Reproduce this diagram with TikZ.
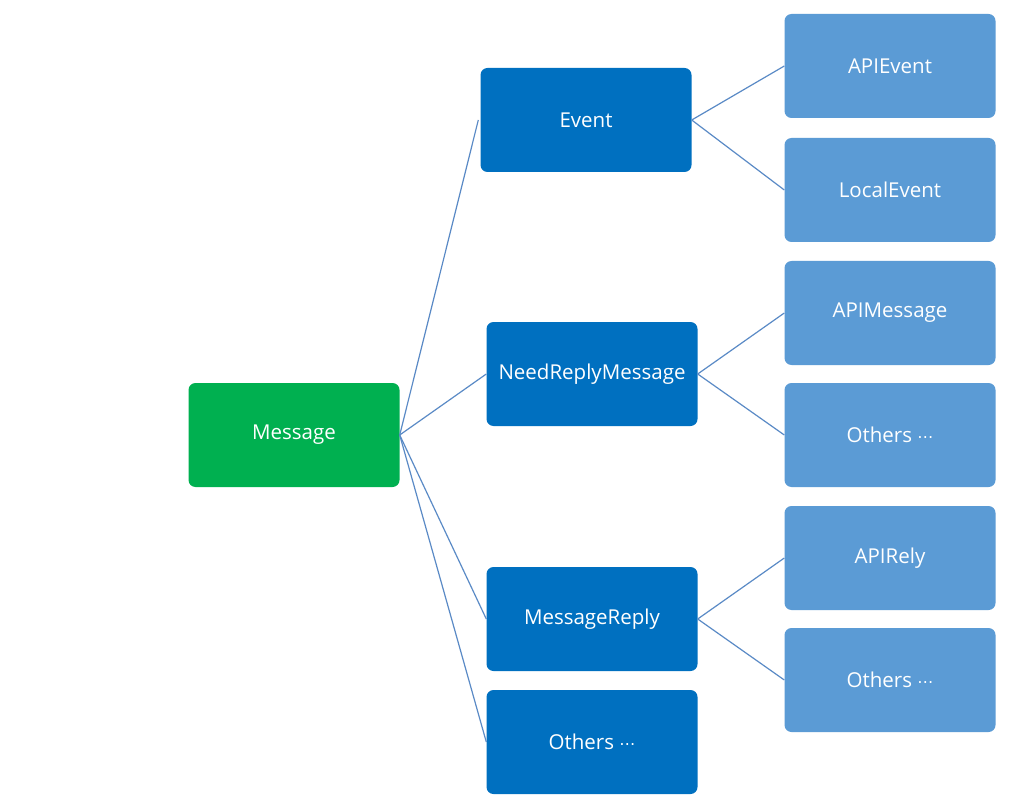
\documentclass[tikz,border=0pt]{standalone}
\usepackage{fontspec}
\setmainfont{Open Sans}
\newfontfamily\dotfont{DejaVu Sans}
\definecolor{cgreen}{HTML}{00B050}
\definecolor{cdark}{HTML}{0070C0}
\definecolor{clight}{HTML}{5B9BD5}
\definecolor{cline}{HTML}{5A8AC6}
\newcommand{\mydots}{{\dotfont\fontsize{16}{16}\selectfont ⋯}}
\begin{document}
\begin{tikzpicture}[x=1pt,y=-1pt,
  box/.style={rectangle, rounded corners=7pt, minimum width=211pt, minimum height=104pt,
    inner sep=0pt, text=white, font=\fontsize{20.5}{24}\selectfont},
  rootbox/.style={box, fill=cgreen},
  midbox/.style={box, fill=cdark},
  leafbox/.style={box, fill=clight},
  link/.style={draw=cline, line width=1.2pt}]
\useasboundingbox (0,0) rectangle (1027,799);
\fill[white] (0,0) rectangle (1027,799);
\node[rootbox] (msg) at (294,435) {Message};
\node[midbox] (ev) at (586,120) {Event};
\node[midbox] (nrm) at (592,374) {NeedReplyMessage};
\node[midbox] (mr) at (592,619) {MessageReply};
\node[midbox] (oth) at (592,742) {Others \mydots};
\node[leafbox] (apie) at (890,66) {APIEvent};
\node[leafbox] (loce) at (890,190) {LocalEvent};
\node[leafbox] (apim) at (890,313) {APIMessage};
\node[leafbox] (oth1) at (890,435) {Others \mydots};
\node[leafbox] (apir) at (890,558) {APIRely};
\node[leafbox] (oth2) at (890,680) {Others \mydots};
\draw[link] (msg.east) -- ([xshift=-2pt]ev.west);
\draw[link] (msg.east) -- (nrm.west);
\draw[link] (msg.east) -- (mr.west);
\draw[link] (msg.east) -- (oth.west);
\draw[link] (ev.east) -- (apie.west);
\draw[link] (ev.east) -- (loce.west);
\draw[link] (nrm.east) -- (apim.west);
\draw[link] (nrm.east) -- (oth1.west);
\draw[link] (mr.east) -- (apir.west);
\draw[link] (mr.east) -- (oth2.west);
\end{tikzpicture}
\end{document}
